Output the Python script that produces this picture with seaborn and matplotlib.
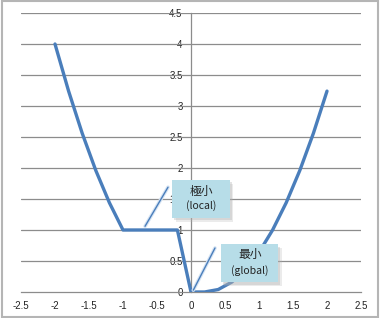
import matplotlib
matplotlib.use("Agg")
import matplotlib.pyplot as plt
import seaborn as sns
import pandas as pd
from matplotlib.patches import Rectangle

x_vals = [-2, -1.8, -1.6, -1.4, -1.2, -1, -0.8, -0.6, -0.4, -0.2, 0,
          0.2, 0.4, 0.6, 0.8, 1, 1.2, 1.4, 1.6, 1.8, 2]
y_vals = [4, 3.24, 2.56, 1.96, 1.44, 1, 1, 1, 1, 1, 0,
          0, 0.04, 0.16, 0.36, 0.64, 1, 1.44, 1.96, 2.56, 3.24]
x_ticks = [-2.5, -2, -1.5, -1, -0.5, 0, 0.5, 1, 1.5, 2, 2.5]
y_ticks = [0, 0.5, 1, 1.5, 2, 2.5, 3, 3.5, 4, 4.5]
x_labels = ["-2.5", "-2", "-1.5", "-1", "-0.5", "0", "0.5", "1", "1.5", "2", "2.5"]
y_labels = ["0", "0.5", "1", "1.5", "2", "2.5", "3", "3.5", "4", "4.5"]
local_label = ["極小", "(local)"]
global_label = ["最小", "(global)"]

sns.set_style("white")
plt.rcParams['font.family'] = ['Noto Sans CJK JP', 'DejaVu Sans']

df = pd.DataFrame({"x": x_vals, "y": y_vals})

fig = plt.figure(figsize=(3.8, 3.18), dpi=100)
ax = fig.add_axes([21/380, 26/318, 340/380, 279/318])

for yt in y_ticks[1:]:
    ax.axhline(yt, color="#8c8c8c", lw=0.9, zorder=1)

sns.lineplot(data=df, x="x", y="y", sort=False, estimator=None,
             color="#4a7ebb", lw=2.4, ax=ax, zorder=4)

ax.set_xlim(-2.5, 2.5)
ax.set_ylim(0, 4.5)
ax.set_xlabel("")
ax.set_ylabel("")
ax.spines['left'].set_position(('data', 0))
ax.spines['bottom'].set_position(('data', 0))
for s in ['top', 'right']:
    ax.spines[s].set_visible(False)
for s in ['left', 'bottom']:
    ax.spines[s].set_color("#8c8c8c")
    ax.spines[s].set_linewidth(0.9)
    ax.spines[s].set_zorder(1)

ax.set_xticks(x_ticks)
ax.set_xticklabels(x_labels)
ax.set_yticks(y_ticks)
ax.set_yticklabels(y_labels)
ax.tick_params(axis='x', direction='out', length=3, width=0.8, color="#8c8c8c",
               labelsize=7, labelcolor="#222222", pad=3.5)
ax.tick_params(axis='y', direction='out', length=0, labelsize=7,
               labelcolor="#222222", pad=6)
for lab in ax.get_xticklabels() + ax.get_yticklabels():
    lab.set_fontfamily(['Liberation Sans', 'DejaVu Sans'])

# callout pointer lines
for (xa, ya, xb, yb) in [(-0.676, 1.06, -0.338, 1.69), (0.034, 0.03, 0.353, 0.71)]:
    ax.plot([xa, xb], [ya, yb], color="#d5e3f3", lw=2.6, zorder=5, solid_capstyle='round')
    ax.plot([xa, xb], [ya, yb], color="#4a7ebb", lw=1.0, zorder=5.1)

# callout boxes
boxes = [((-0.275, 1.198), 0.849, 0.608, local_label, (1.62, 1.39)),
         ((0.441, 0.156), 0.843, 0.613, global_label, (0.60, 0.34))]
for (x0, y0), w, h, labels, (ty1, ty2) in boxes:
    for k, a in [(0.05, 0.25), (0.03, 0.35)]:
        shadow = Rectangle((x0 + k, y0 - k * 1.3), w, h, facecolor="#b0b0b0",
                           edgecolor='none', alpha=a, zorder=5.5)
        ax.add_patch(shadow)
    rect = Rectangle((x0, y0), w, h, facecolor="#b7dde8", edgecolor='none', zorder=6)
    ax.add_patch(rect)
    cx = x0 + w / 2
    ax.text(cx, ty1, labels[0], ha='center', va='center', fontsize=8.5,
            color="#222222", zorder=7)
    ax.text(cx, ty2, labels[1], ha='center', va='center', fontsize=7.5,
            color="#222222", zorder=7)

fig.patches.append(Rectangle((0.004, 0.004), 0.991, 0.993, transform=fig.transFigure,
                             fill=False, edgecolor="#b5b5b5", lw=1.5, zorder=10))

fig.savefig("out.png", dpi=100)
